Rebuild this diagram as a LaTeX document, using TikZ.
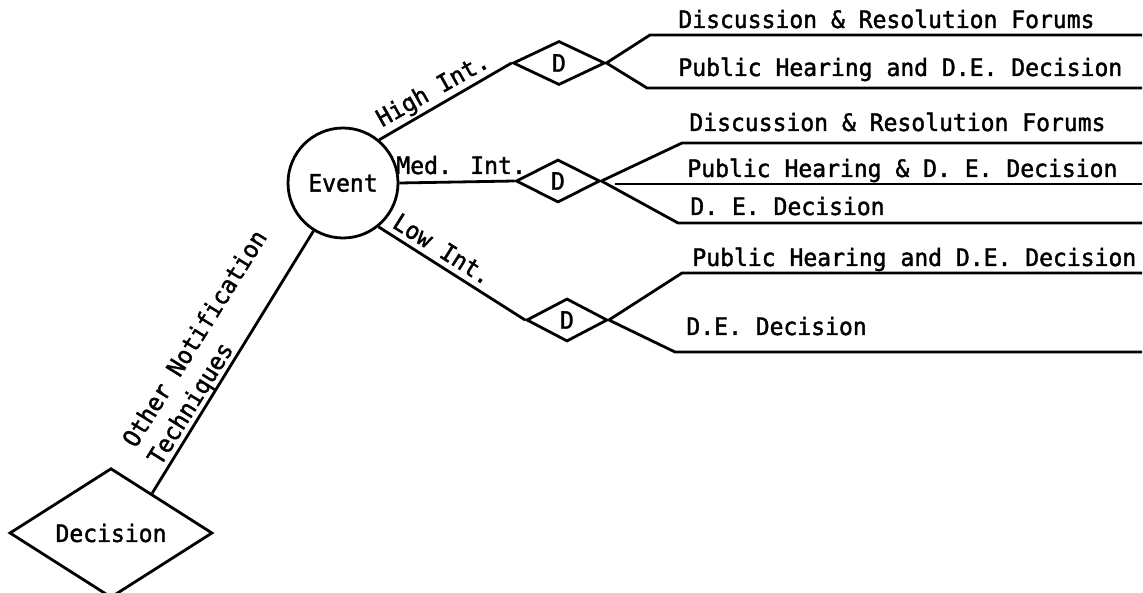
\documentclass[tikz,border=0pt]{standalone}
\usepackage{fontspec}
\newfontfamily\typew[FakeStretch=0.96,FakeBold=1.6]{DejaVu Sans Mono}
\usetikzlibrary{shapes.geometric}
\begin{document}
\begin{tikzpicture}[x=1pt,y=-1pt, line width=2.8pt, line join=miter,
  every node/.style={font=\typew\fontsize{24}{28}\selectfont, inner sep=0pt},
  lbl/.style={anchor=base west},
  dia/.style={draw, diamond, inner sep=0pt},
  ]
\useasboundingbox (0,0) rectangle (1143,593);

% main nodes
\node[draw, circle, minimum size=110pt] (ev) at (343,183) {Event};
\node[dia, minimum width=203pt, minimum height=119pt] (dec) at (111,533) {Decision};
\node[dia, minimum width=92pt, minimum height=44pt] (d1) at (559,63) {D};
\node[dia, minimum width=84pt, minimum height=43pt] (d2) at (558,181) {D};
\node[dia, minimum width=81pt, minimum height=43pt] (d3) at (567,320) {D};

% connectors
\draw (ev) -- (dec.44);
\draw (ev.50) -- (d1.west);
\draw (ev.east) -- (d2.west);
\draw (ev.-51) -- (d3.west);

% branch coordinates
\coordinate (a1) at (650,35);  \coordinate (a1e) at (1142,35);
\coordinate (b1) at (647,88);  \coordinate (b1e) at (1142,88);
\coordinate (a2) at (682,143); \coordinate (a2e) at (1142,143);
\coordinate (m2) at (615,184); \coordinate (m2e) at (1142,184);
\coordinate (b2) at (678,223); \coordinate (b2e) at (1142,223);
\coordinate (a3) at (682,273); \coordinate (a3e) at (1142,273);
\coordinate (b3) at (675,352); \coordinate (b3e) at (1142,352);

\draw (d1.east) -- (a1) -- (a1e);
\draw (d1.east) -- (b1) -- (b1e);
\draw (d2.east) -- (a2) -- (a2e);
\draw (m2) -- (m2e);
\draw (d2.east) -- (b2) -- (b2e);
\draw (d3.east) -- (a3) -- (a3e);
\draw (d3.east) -- (b3) -- (b3e);

% outcome texts
\node[lbl] (t1) at (677,28) {Discussion \& Resolution Forums};
\node[lbl] (t2) at (677,76) {Public Hearing and D.E. Decision};
\node[lbl] (t3) at (688,131) {Discussion \& Resolution Forums};
\node[lbl] (t4) at (686,177) {Public Hearing \& D. E. Decision};
\node[lbl] (t5) at (689,215) {D. E. Decision};
\node[lbl] (t6) at (691,266) {Public Hearing and D.E. Decision};
\node[lbl] (t7) at (685,335) {D.E. Decision};

% edge labels
\node[lbl, rotate=29.4] (hi) at (381,128) {High Int.};
\node[lbl] (me) at (395,174) {Med. Int.};
\node[lbl, rotate=-32.2] (lo) at (390,226) {Low Int.};
\node[lbl, rotate=58.1] (on1) at (135,450) {Other Notification};
\node[lbl, rotate=58.1] (on2) at (160,468) {Techniques};
\end{tikzpicture}
\end{document}
